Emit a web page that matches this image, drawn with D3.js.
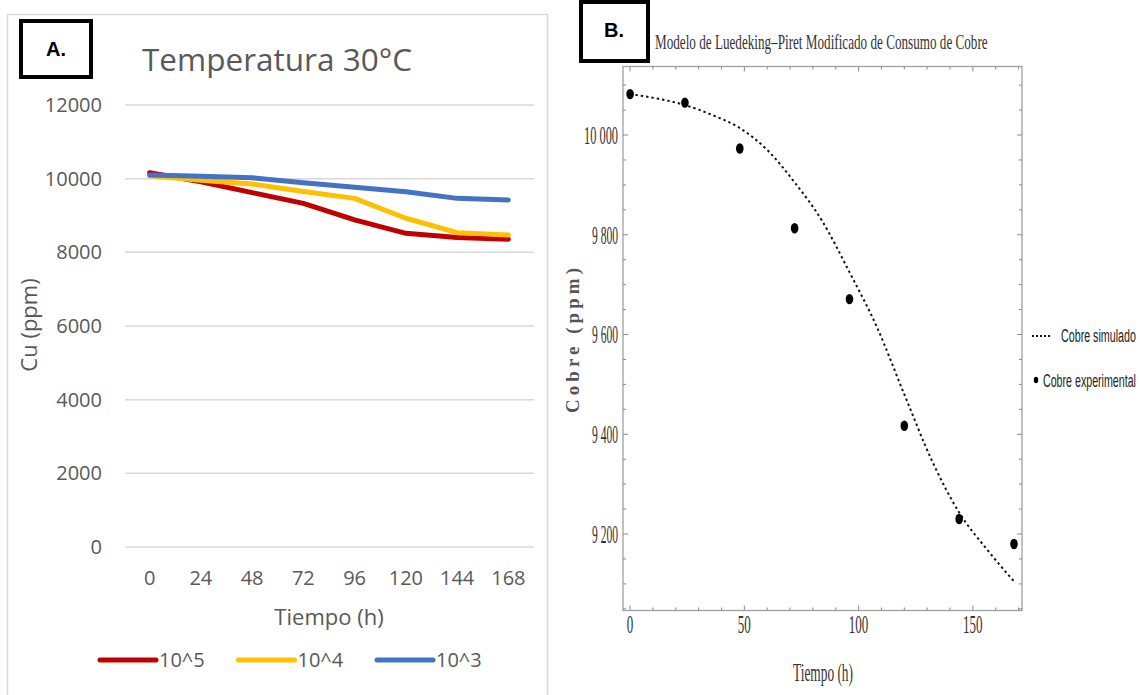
<!DOCTYPE html>
<html>
<head>
<meta charset="utf-8">
<script src="https://cdn.jsdelivr.net/npm/d3@7"></script>
<style>
  body { margin: 0; background: #fff; }
  svg { display: block; }
</style>
</head>
<body>
<svg id="chart" width="1140" height="695"></svg>
<script>
// ---- panel A data (Cu ppm vs time, three inocula)
var horas = ["0", "24", "48", "72", "96", "120", "144", "168"];
var serie5 = [10160, 9915, 9620, 9330, 8880, 8515, 8405, 8355];
var serie4 = [10080, 9960, 9855, 9650, 9465, 8925, 8535, 8470];
var serie3 = [10100, 10065, 10025, 9890, 9765, 9645, 9465, 9420];
var yTicksA = [0, 2000, 4000, 6000, 8000, 10000, 12000];

// ---- panel B data (model vs experiment)
var tExp = [0, 24, 48, 72, 96, 120, 144, 168];
var cobreExp = [10082, 10065, 9973, 9813, 9671, 9417, 9230, 9180];
var tSim = [0, 12, 24, 36, 48, 60, 72, 84, 96, 108, 120, 132, 144, 156, 168];
var cobreSim = [10082, 10073, 10060, 10040, 10014, 9970, 9905, 9828, 9725, 9615, 9480, 9348, 9243, 9170, 9105];
var yTicksB = [9200, 9400, 9600, 9800, 10000];
var yTickLabelsB = ["9 200", "9 400", "9 600", "9 800", "10 000"];
var xTicksB = [0, 50, 100, 150];

var svg = d3.select("#chart");
var gris = "#595959";
var sans = "'Open Sans', sans-serif";

// squeeze a text horizontally so it spans `ancho` px, like the condensed fonts of the original
function condensar(sel, x, y, ancho, ancla) {
  sel.each(function () {
    var t = d3.select(this);
    var w = this.getComputedTextLength();
    var s = ancho / w;
    var dx = ancla === "end" ? -ancho : 0;
    t.attr("transform", "translate(" + (x + dx) + "," + y + ") scale(" + s + ",1)");
  });
}

// ================= PANEL A =================
svg.append("rect")
  .attr("x", 7.5).attr("y", 14.5)
  .attr("width", 540).attr("height", 700)
  .attr("fill", "none").attr("stroke", "#d9d9d9").attr("stroke-width", 1.5);

var xA = d3.scaleBand().domain(horas).range([125, 535]);
var yA = d3.scaleLinear().domain([0, 12000]).range([547, 105]);

svg.append("g")
  .selectAll("line")
  .data(yTicksA)
  .join("line")
    .attr("x1", 125).attr("x2", 534)
    .attr("y1", d => yA(d)).attr("y2", d => yA(d))
    .attr("stroke", "#d9d9d9").attr("stroke-width", 1.5);

svg.append("g")
  .attr("font-family", sans).attr("font-size", 20).attr("fill", gris)
  .selectAll("text")
  .data(yTicksA)
  .join("text")
    .attr("x", 102).attr("y", d => yA(d))
    .attr("dy", "0.35em")
    .attr("text-anchor", "end")
    .text(d => d);

svg.append("g")
  .attr("font-family", sans).attr("font-size", 20).attr("fill", gris)
  .selectAll("text")
  .data(horas)
  .join("text")
    .attr("x", d => xA(d) + xA.bandwidth() / 2 - 1)
    .attr("y", 578)
    .attr("dy", "0.35em")
    .attr("text-anchor", "middle")
    .text(d => d);

var linea = d3.line()
  .x((d, i) => xA(horas[i]) + xA.bandwidth() / 2 - 1)
  .y(d => yA(d));

var seriesA = [
  { nombre: "10^5", valores: serie5, color: "#C00000" },
  { nombre: "10^4", valores: serie4, color: "#FFC000" },
  { nombre: "10^3", valores: serie3, color: "#4472C4" }
];

seriesA.forEach(function (s) {
  svg.append("path")
    .datum(s.valores)
    .attr("d", linea)
    .attr("fill", "none")
    .attr("stroke", s.color)
    .attr("stroke-width", 5)
    .attr("stroke-linejoin", "round")
    .attr("stroke-linecap", "round");
});

svg.append("text")
  .attr("x", 277).attr("y", 60).attr("dy", "0.35em")
  .attr("text-anchor", "middle")
  .attr("font-family", sans).attr("font-size", 31.5).attr("fill", gris)
  .text("Temperatura 30°C");

svg.append("text")
  .attr("x", 329).attr("y", 617).attr("dy", "0.35em")
  .attr("text-anchor", "middle")
  .attr("font-family", sans).attr("font-size", 22).attr("fill", gris)
  .text("Tiempo (h)");

svg.append("text")
  .attr("transform", "translate(29,325) rotate(-90)")
  .attr("dy", "0.35em")
  .attr("text-anchor", "middle")
  .attr("font-family", sans).attr("font-size", 22).attr("fill", gris)
  .text("Cu (ppm)");

var leyA = svg.append("g").selectAll("g")
  .data(seriesA)
  .join("g")
    .attr("transform", (d, i) => "translate(" + (100 + i * 138.5) + ",660)");
leyA.append("line")
  .attr("x1", 0).attr("x2", 56)
  .attr("stroke", d => d.color).attr("stroke-width", 5)
  .attr("stroke-linecap", "round");
leyA.append("text")
  .attr("x", 59).attr("dy", "0.35em")
  .attr("font-family", sans).attr("font-size", 20).attr("fill", gris)
  .text(d => d.nombre);

// label box A
svg.append("rect")
  .attr("x", 21).attr("y", 21).attr("width", 70).attr("height", 56)
  .attr("fill", "#fff").attr("stroke", "#000").attr("stroke-width", 4);
svg.append("text")
  .attr("x", 56).attr("y", 49).attr("dy", "0.35em")
  .attr("text-anchor", "middle")
  .attr("font-family", "'Liberation Sans', Arial, sans-serif")
  .attr("font-weight", "bold").attr("font-size", 20)
  .text("A.");

// ================= PANEL B =================
var serif = "'Liberation Serif', 'Times New Roman', serif";
var narrow = "'Liberation Sans', Arial, sans-serif";

var xB = d3.scaleLinear().domain([-3.1, 171.5]).range([623, 1022]);
var yB = d3.scaleLinear().domain([9200, 10000]).range([534, 135]);
var yTop = 66.5, yBottom = 610.5;

svg.append("rect")
  .attr("x", 623).attr("y", yTop)
  .attr("width", 1022 - 623).attr("height", yBottom - yTop)
  .attr("fill", "none").attr("stroke", "#a0a0a0").attr("stroke-width", 1.3);

// minor / major ticks inside the frame
var yMinor = d3.range(9050, 10150, 50);
var xMinor = d3.range(0, 171, 10);
var ticksB = svg.append("g").attr("stroke", "#8a8a8a").attr("stroke-width", 1);
yMinor.forEach(function (v) {
  var len = (v % 200 === 0) ? 5 : 3;
  ticksB.append("line").attr("x1", 623).attr("x2", 623 + len).attr("y1", yB(v)).attr("y2", yB(v));
  ticksB.append("line").attr("x1", 1022).attr("x2", 1022 - len).attr("y1", yB(v)).attr("y2", yB(v));
});
xMinor.forEach(function (v) {
  var len = (v % 50 === 0) ? 5 : 3;
  ticksB.append("line").attr("y1", yBottom).attr("y2", yBottom - len).attr("x1", xB(v)).attr("x2", xB(v));
  ticksB.append("line").attr("y1", yTop).attr("y2", yTop + len).attr("x1", xB(v)).attr("x2", xB(v));
});

svg.append("g")
  .attr("font-family", serif).attr("font-size", 25).attr("fill", "#333")
  .selectAll("text")
  .data(yTicksB)
  .join("text")
    .attr("dy", "0.35em")
    .text((d, i) => yTickLabelsB[i])
    .each(function (d) {
      condensar(d3.select(this), 618, yB(d), d >= 10000 ? 34 : 26, "end");
    });

svg.append("g")
  .attr("font-family", serif).attr("font-size", 25).attr("fill", "#333")
  .selectAll("text")
  .data(xTicksB)
  .join("text")
    .attr("dy", "0.35em")
    .text(d => d)
    .each(function (d) {
      var w = String(d).length * 6.5;
      condensar(d3.select(this), xB(d) - w / 2, 624, w);
    });

svg.append("text")
  .attr("dy", "0.35em")
  .attr("font-family", serif).attr("font-size", 25).attr("fill", "#333")
  .text("Tiempo (h)")
  .call(condensar, 793, 672, 60);

svg.append("text")
  .attr("transform", "translate(572,413) rotate(-90)")
  .attr("dy", "0.35em")
  .attr("font-family", serif).attr("font-size", 19).attr("font-weight", "bold")
  .attr("fill", "#555")
  .attr("textLength", 145).attr("lengthAdjust", "spacing")
  .text("Cobre (ppm)");

svg.append("text")
  .attr("dy", "0.35em")
  .attr("font-family", serif).attr("font-size", 22).attr("fill", "#333")
  .text("Modelo de Luedeking\u2013Piret Modificado de Consumo de Cobre")
  .call(condensar, 655, 41, 333);

// simulated curve
var curva = d3.line()
  .x((d, i) => xB(tSim[i]))
  .y(d => yB(d))
  .curve(d3.curveMonotoneX);
svg.append("path")
  .datum(cobreSim)
  .attr("d", curva)
  .attr("fill", "none")
  .attr("stroke", "#111")
  .attr("stroke-width", 2)
  .attr("stroke-dasharray", "2.4,3");

// experimental points
svg.append("g")
  .selectAll("ellipse")
  .data(cobreExp)
  .join("ellipse")
    .attr("cx", (d, i) => xB(tExp[i]))
    .attr("cy", d => yB(d))
    .attr("rx", 3.8).attr("ry", 5.2)
    .attr("fill", "#000");

// legend B
svg.append("line")
  .attr("x1", 1032).attr("x2", 1051).attr("y1", 336).attr("y2", 336)
  .attr("stroke", "#111").attr("stroke-width", 1.8).attr("stroke-dasharray", "2,2");
svg.append("text")
  .attr("dy", "0.35em")
  .attr("font-family", narrow).attr("font-size", 18).attr("fill", "#222")
  .text("Cobre simulado")
  .call(condensar, 1061, 336, 75);
svg.append("ellipse")
  .attr("cx", 1036).attr("cy", 380).attr("rx", 2.2).attr("ry", 3.2).attr("fill", "#000");
svg.append("text")
  .attr("dy", "0.35em")
  .attr("font-family", narrow).attr("font-size", 18).attr("fill", "#222")
  .text("Cobre experimental")
  .call(condensar, 1043, 381, 93);

// label box B
svg.append("rect")
  .attr("x", 581).attr("y", 2).attr("width", 67).attr("height", 59)
  .attr("fill", "#fff").attr("stroke", "#000").attr("stroke-width", 4);
svg.append("text")
  .attr("x", 614).attr("y", 30).attr("dy", "0.35em")
  .attr("text-anchor", "middle")
  .attr("font-family", narrow)
  .attr("font-weight", "bold").attr("font-size", 20)
  .text("B.");
</script>
</body>
</html>
